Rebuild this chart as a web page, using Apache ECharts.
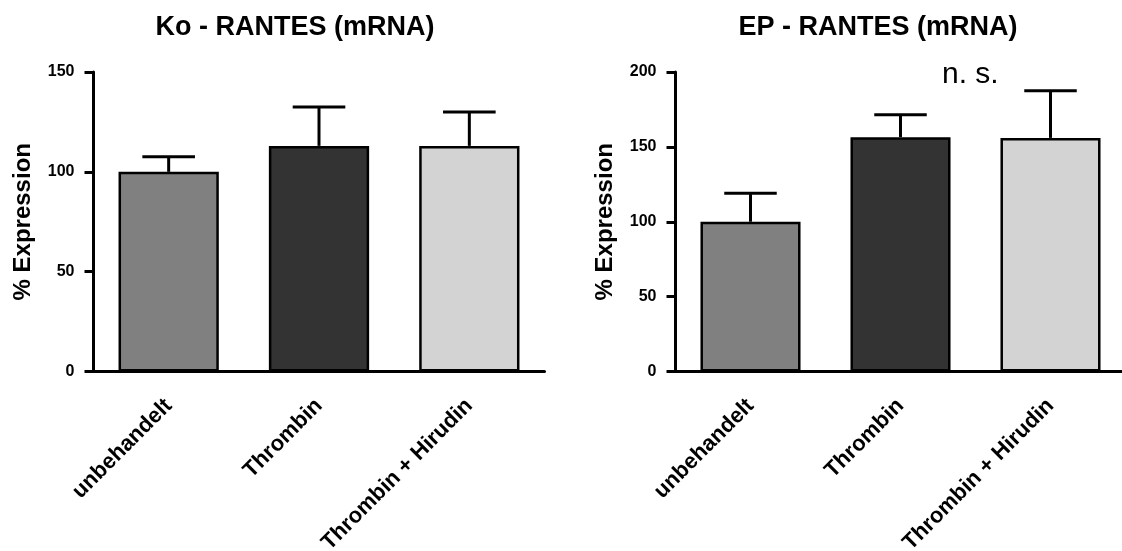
<!DOCTYPE html>
<html>
<head>
<meta charset="utf-8">
<script src="https://cdn.jsdelivr.net/npm/echarts@6/dist/echarts.min.js"></script>
<style>html,body{margin:0;padding:0;background:#fff}#c{width:1122px;height:551px}</style>
</head>
<body>
<div id="c"></div>
<script>
const categories = ['unbehandelt', 'Thrombin', 'Thrombin + Hirudin'];
const koMeans = [100, 113, 113];
const koErrors = [7.5, 19.5, 17];
const epMeans = [100, 156.5, 156];
const epErrors = [19, 15, 31.5];
const barColors = ['#808080', '#333333', '#d3d3d3'];
const koTitle = 'Ko - RANTES (mRNA)';
const epTitle = 'EP - RANTES (mRNA)';
const yName = '% Expression';
const annotation = 'n. s.';

const FONT = 'Arial, "Liberation Sans", sans-serif';

function barData(means) {
  return means.map((v, i) => ({ value: v, itemStyle: { color: barColors[i] } }));
}
function errData(means, errs) {
  return means.map((v, i) => [i, v, errs[i]]);
}
function renderErr(params, api) {
  const x = api.value(0), m = api.value(1), e = api.value(2);
  const base = api.coord([x, m]);
  const cap = api.coord([x, m + e]);
  const half = api.size([1, 0])[0] * 0.175;
  const st = { stroke: '#000', lineWidth: 3 };
  return {
    type: 'group',
    children: [
      { type: 'line', shape: { x1: base[0], y1: base[1], x2: cap[0], y2: cap[1] }, style: st },
      { type: 'line', shape: { x1: cap[0] - half, y1: cap[1], x2: cap[0] + half, y2: cap[1] }, style: st }
    ]
  };
}

function xAxis(gi) {
  return {
    type: 'category', gridIndex: gi, data: categories,
    axisLine: { lineStyle: { color: '#000', width: 3 } },
    axisTick: { alignWithLabel: true, length: 10, lineStyle: { color: '#000', width: 3 } },
    axisLabel: { rotate: 45, margin: 31, color: '#000', fontSize: 22, fontWeight: 'bold', fontFamily: FONT, interval: 0 }
  };
}
function yAxis(gi, max) {
  return {
    type: 'value', gridIndex: gi, min: 0, max: max, interval: 50,
    name: yName, nameLocation: 'middle', nameRotate: 90, nameGap: 58,
    nameTextStyle: { color: '#000', fontSize: 24, fontWeight: 'bold', fontFamily: FONT },
    axisLine: { show: true, lineStyle: { color: '#000', width: 3 } },
    axisTick: { show: true, length: 9, lineStyle: { color: '#000', width: 3 } },
    axisLabel: { margin: 19, color: '#000', fontSize: 16, fontWeight: 'bold', fontFamily: FONT },
    splitLine: { show: false }
  };
}

const chart = echarts.init(document.getElementById('c'));
chart.setOption({
  backgroundColor: '#fff',
  animation: false,
  title: [
    { text: koTitle, left: 295, top: 14, textAlign: 'center', padding: 0,
      textStyle: { color: '#000', fontSize: 27, fontWeight: 'bold', fontFamily: FONT } },
    { text: epTitle, left: 878, top: 14, textAlign: 'center', padding: 0,
      textStyle: { color: '#000', fontSize: 27, fontWeight: 'bold', fontFamily: FONT } }
  ],
  grid: [
    { left: 93.5, top: 72, width: 451, height: 299.5, containLabel: false, outerBoundsMode: 'none' },
    { left: 675.5, top: 72, width: 450, height: 299.5, containLabel: false, outerBoundsMode: 'none' }
  ],
  xAxis: [xAxis(0), xAxis(1)],
  yAxis: [yAxis(0, 150), yAxis(1, 200)],
  graphic: [
    { type: 'text', left: 942, top: 60, style: { text: annotation, fill: '#000', fontSize: 30, fontFamily: FONT } }
  ],
  series: [
    { type: 'custom', xAxisIndex: 0, yAxisIndex: 0, renderItem: renderErr, data: errData(koMeans, koErrors), z: 1 },
    { type: 'bar', xAxisIndex: 0, yAxisIndex: 0, data: barData(koMeans), barWidth: '66.7%',
      itemStyle: { borderColor: '#000', borderWidth: 2.5 }, z: 2 },
    { type: 'custom', xAxisIndex: 1, yAxisIndex: 1, renderItem: renderErr, data: errData(epMeans, epErrors), z: 1 },
    { type: 'bar', xAxisIndex: 1, yAxisIndex: 1, data: barData(epMeans), barWidth: '66.7%',
      itemStyle: { borderColor: '#000', borderWidth: 2.5 }, z: 2 }
  ]
});
</script>
</body>
</html>
